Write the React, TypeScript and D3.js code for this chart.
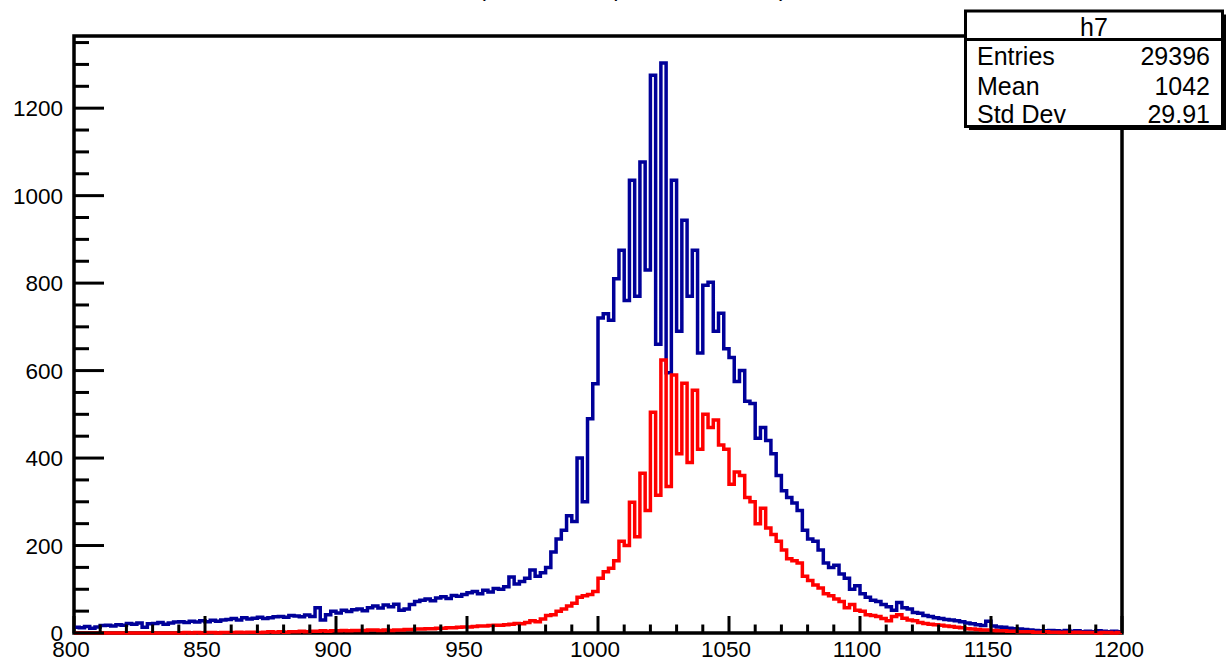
import React from "react";
import * as d3 from "d3";

const X_MIN = 800;
const X_MAX = 1200;
const Y_MAX = 1365;

const blueCounts = [
  13, 12, 15, 11, 14, 17, 18, 16, 19, 18,
  22, 20, 23, 13, 21, 22, 24, 20, 23, 25,
  26, 24, 27, 25, 28, 26, 29, 27, 30, 31,
  33, 30, 35, 32, 34, 36, 33, 35, 37, 38,
  36, 40, 39, 37, 41, 38, 58, 30, 42, 50,
  46, 52, 49, 53, 55, 51, 58, 62, 57, 64,
  60, 66, 52, 55, 65, 72, 75, 78, 74, 80,
  83, 79, 86, 84, 88, 92, 95, 90, 98, 94,
  102, 100, 106, 128, 112, 118, 125, 144, 130, 138,
  150, 185, 215, 235, 268, 255, 400, 300, 490, 570,
  720, 730, 715, 810, 875, 760, 1035, 770, 1077, 830,
  1275, 660, 1303, 595, 1035, 690, 944, 770, 875, 640,
  795, 802, 690, 731, 650, 630, 575, 600, 530, 525,
  445, 470, 440, 410, 360, 325, 310, 297, 280, 235,
  215, 210, 190, 160, 150, 155, 135, 125, 100, 108,
  90, 82, 75, 72, 65, 60, 52, 70, 58, 55,
  47, 45, 40, 38, 35, 33, 31, 30, 28, 26,
  23, 21, 19, 17, 27, 16, 14, 13, 11, 10,
  9, 8, 7, 6, 5, 5, 6, 5, 4, 6,
  4, 5, 3, 4, 3, 5, 4, 3, 4, 3,
];

const redCounts = [
  0, 0, 0, 0, 0, 0, 0, 0, 0, 0,
  0, 0, 0, 0, 0, 0, 0, 0, 0, 0,
  0, 1, 0, 1, 0, 1, 1, 0, 1, 1,
  1, 2, 1, 2, 2, 1, 2, 3, 2, 3,
  2, 3, 3, 4, 3, 4, 4, 5, 4, 5,
  5, 6, 5, 6, 6, 6, 7, 7, 6, 7,
  6, 7, 7, 8, 8, 9, 9, 10, 10, 11,
  11, 12, 12, 13, 14, 14, 15, 16, 16, 17,
  18, 18, 19, 20, 22, 21, 24, 28, 26, 32,
  40, 42, 50, 55, 62, 68, 82, 85, 88, 95,
  125, 140, 148, 165, 210, 200, 299, 220, 365, 280,
  505, 315, 624, 335, 590, 410, 571, 390, 555, 420,
  500, 470, 487, 430, 420, 340, 368, 360, 310, 300,
  250, 285, 240, 225, 210, 190, 170, 165, 160, 130,
  120, 110, 103, 90, 85, 78, 72, 58, 65, 52,
  50, 42, 40, 38, 33, 28, 38, 42, 34, 30,
  28, 24, 22, 20, 19, 18, 16, 15, 13, 12,
  10, 9, 8, 7, 7, 6, 5, 5, 4, 4,
  3, 3, 3, 2, 2, 3, 2, 2, 1, 2,
  1, 2, 1, 1, 1, 0, 1, 1, 0, 1,
];

const xMajorTicks = [800, 850, 900, 950, 1000, 1050, 1100, 1150, 1200];
const yMajorTicks = [0, 200, 400, 600, 800, 1000, 1200];
const statsTitle = "h7";
const statsLabels = ["Entries", "Mean", "Std Dev"];
const statsValues = ["29396", "1042", "29.91"];
const titleText = "(Reco mass | Truth matched)";

const FONT = "'Liberation Sans', Arial, Helvetica, sans-serif";

export default function App() {
  const W = 1228;
  const H = 661;
  const left = 74;
  const right = 1122;
  const top = 36;
  const bottom = 633;

  const x = d3.scaleLinear().domain([X_MIN, X_MAX]).range([left, right]);
  const y = d3.scaleLinear().domain([0, Y_MAX]).range([bottom, top]);

  const toPts = (counts: number[]) => {
    const w = (X_MAX - X_MIN) / counts.length;
    const pts: [number, number][] = counts.map((v, i) => [X_MIN + i * w, v]);
    pts.push([X_MAX, counts[counts.length - 1]]);
    return pts;
  };
  const step = d3
    .line<[number, number]>()
    .x((d) => x(d[0]))
    .y((d) => y(d[1]))
    .curve(d3.curveStepAfter);

  const xMinor = d3.range(X_MIN, X_MAX + 0.001, 10).filter((v) => v % 50 !== 0);
  const yMinor = d3.range(0, 1351, 50).filter((v) => v % 200 !== 0);

  const bx0 = 965.5, by0 = 11, bx1 = 1222.5, by1 = 126.5;
  const rowY = [65, 95, 123];

  return (
    <svg
      width={W}
      height={H}
      style={{ position: "absolute", left: 0, top: 0, display: "block", background: "#fff" }}
      fontFamily={FONT}
    >
      <rect x={0} y={0} width={W} height={H} fill="#fff" />
      {/* title (mostly cut off at top) */}
      <text x={478} y={-4} fontSize={24} fill="#000">{titleText}</text>

      {/* frame */}
      <rect x={left} y={top} width={right - left} height={bottom - top} fill="none" stroke="#000" strokeWidth={3.5} />

      {/* histograms */}
      <path d={step(toPts(blueCounts)) || ""} fill="none" stroke="#000099" strokeWidth={3.5} />
      <path d={step(toPts(redCounts)) || ""} fill="none" stroke="#ff0000" strokeWidth={3.5} />

      {/* y ticks */}
      {yMajorTicks.map((v) => (
        <line key={"ym" + v} x1={left} x2={left + 30} y1={y(v)} y2={y(v)} stroke="#000" strokeWidth={3} />
      ))}
      {yMinor.map((v) => (
        <line key={"yn" + v} x1={left} x2={left + 15} y1={y(v)} y2={y(v)} stroke="#000" strokeWidth={3} />
      ))}
      {yMajorTicks.map((v) => (
        <text key={"yl" + v} x={63} y={y(v)} dy="0.36em" textAnchor="end" fontSize={22.5} fill="#000">
          {v}
        </text>
      ))}

      {/* x ticks */}
      {xMajorTicks.map((v) => (
        <line key={"xm" + v} x1={x(v)} x2={x(v)} y1={bottom} y2={bottom - 17} stroke="#000" strokeWidth={3} />
      ))}
      {xMinor.map((v) => (
        <line key={"xn" + v} x1={x(v)} x2={x(v)} y1={bottom} y2={bottom - 8.5} stroke="#000" strokeWidth={3} />
      ))}
      {xMajorTicks.map((v) => (
        <text key={"xl" + v} x={x(v) - 3} y={657} textAnchor="middle" fontSize={22.5} fill="#000">
          {v}
        </text>
      ))}

      {/* stats box */}
      <rect x={bx0 + 3.5} y={by0 + 3.5} width={bx1 - bx0} height={by1 - by0} fill="#000" />
      <rect x={bx0} y={by0} width={bx1 - bx0} height={by1 - by0} fill="#fff" stroke="#000" strokeWidth={3} />
      <line x1={bx0} x2={bx1} y1={39.5} y2={39.5} stroke="#000" strokeWidth={3} />
      <text x={(bx0 + bx1) / 2} y={36} textAnchor="middle" fontSize={25} fill="#000">{statsTitle}</text>
      {statsLabels.map((s, i) => (
        <text key={"sl" + i} x={977} y={rowY[i]} fontSize={25} fill="#000">{s}</text>
      ))}
      {statsValues.map((s, i) => (
        <text key={"sv" + i} x={1210} y={rowY[i]} textAnchor="end" fontSize={25} fill="#000">{s}</text>
      ))}
    </svg>
  );
}
